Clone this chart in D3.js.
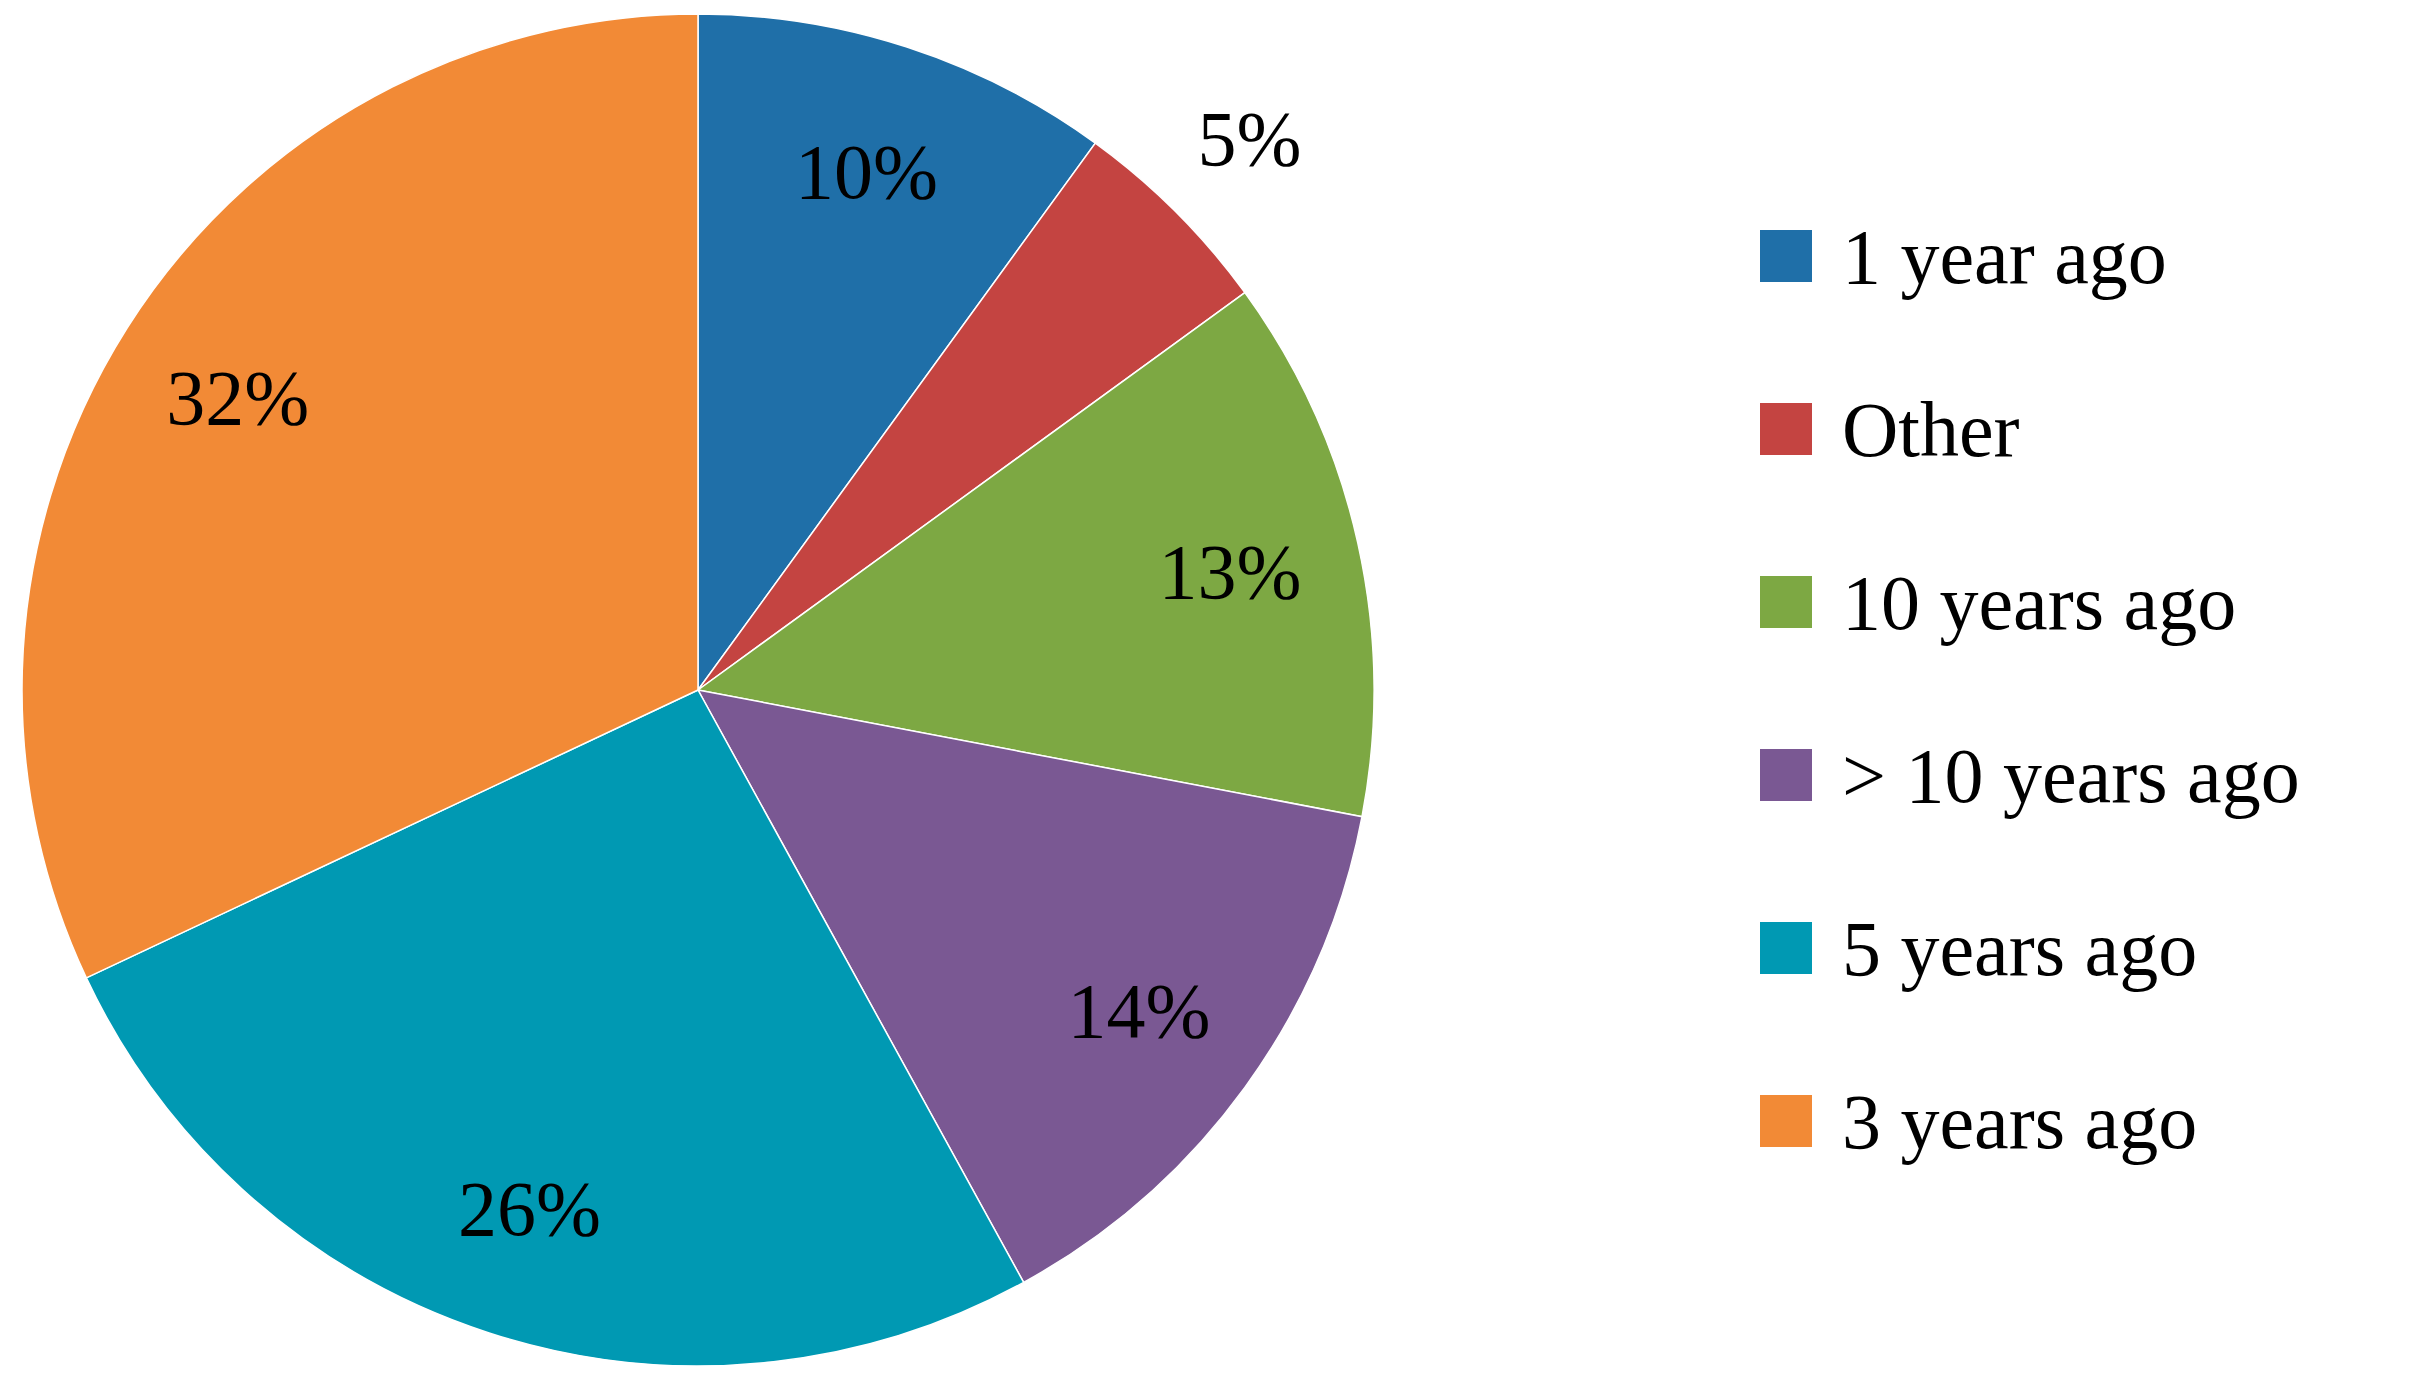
<!DOCTYPE html>
<html>
<head>
<meta charset="utf-8">
<script src="https://cdn.jsdelivr.net/npm/d3@7"></script>
<style>
  body { margin: 0; background: #fff; }
  text { font-family: "Liberation Serif", "DejaVu Serif", serif; fill: #000; }
</style>
</head>
<body>
<div id="chart"></div>
<script>
  var categories = ["1 year ago", "Other", "10 years ago", "> 10 years ago", "5 years ago", "3 years ago"],
      values = [10, 5, 13, 14, 26, 32],
      colors = ["#1f6fa8", "#c44441", "#7da843", "#7a5893", "#0099b3", "#f28a36"],
      width = 2432,
      height = 1384,
      cx = 698, cy = 690, radius = 676;

  const svg = d3.select("#chart").append("svg")
      .attr("width", width)
      .attr("height", height);

  var pie = d3.pie().sort(null).value(function(d) { return d; });
  var arcs = pie(values);
  var arc = d3.arc().innerRadius(0).outerRadius(radius);
  var labelArc = d3.arc().innerRadius(545).outerRadius(545);
  var outerLabelArc = d3.arc().innerRadius(780).outerRadius(780);

  var g = svg.append("g").attr("transform", "translate(" + cx + "," + cy + ")");

  g.selectAll(".slice")
      .data(arcs)
      .enter().append("path")
      .attr("class", "slice")
      .attr("d", arc)
      .style("fill", function(d, i) { return colors[i]; })
      .style("stroke", "#fff")
      .style("stroke-width", 1.5);

  g.selectAll(".label")
      .data(arcs)
      .enter().append("text")
      .attr("class", "label")
      .attr("transform", function(d) {
        // small slice gets its label outside
        var c = (d.data < 8 ? outerLabelArc : labelArc).centroid(d);
        return "translate(" + c[0] + "," + c[1] + ")";
      })
      .attr("text-anchor", "middle")
      .attr("dominant-baseline", "central")
      .style("font-size", "78px")
      .text(function(d) { return d.data + "%"; });

  var legend = svg.selectAll(".legend")
      .data(categories)
      .enter().append("g")
      .attr("class", "legend")
      .attr("transform", function(d, i) { return "translate(1760," + (256 + i * 173) + ")"; });

  legend.append("rect")
      .attr("x", 0)
      .attr("y", -26)
      .attr("width", 52)
      .attr("height", 52)
      .style("fill", function(d, i) { return colors[i]; });

  legend.append("text")
      .attr("x", 82)
      .attr("y", 0)
      .attr("dominant-baseline", "central")
      .style("font-size", "78px")
      .text(function(d) { return d; });
</script>
</body>
</html>
